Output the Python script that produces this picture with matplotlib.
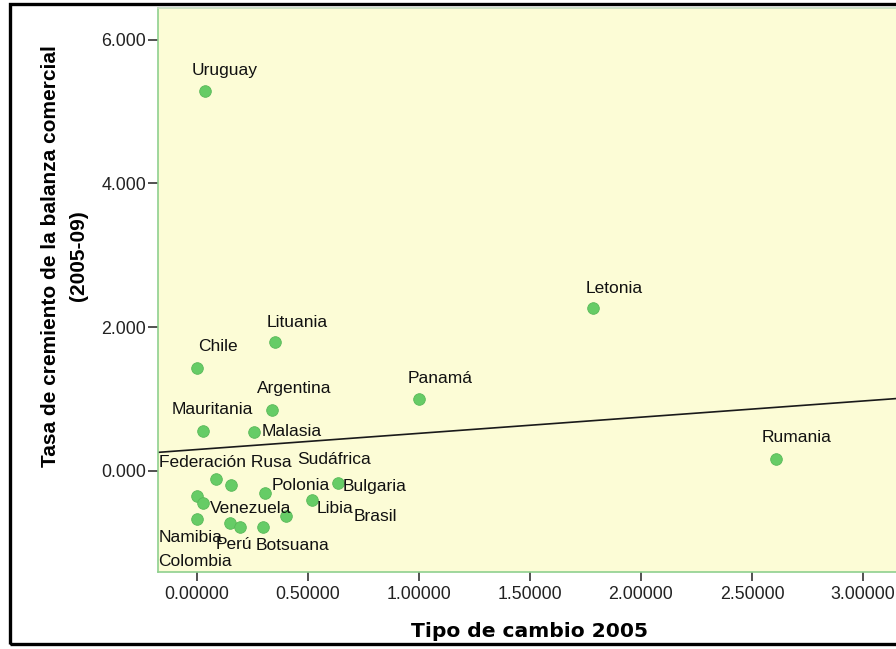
import matplotlib
matplotlib.use("Agg")
import matplotlib.pyplot as plt
from matplotlib.patches import Rectangle
from matplotlib.ticker import FuncFormatter
import numpy as np

# exchange rate 2005 vs. trade balance growth 2005-09, one point per country
paises = ["Uruguay", "Letonia", "Lituania", "Chile", "Argentina", "Panamá",
          "Mauritania", "Malasia", "Rumania", "Federación Rusa", "",
          "Bulgaria", "Polonia", "Namibia", "Venezuela", "Sudáfrica",
          "Libia", "Colombia", "Perú", "Botsuana", "Brasil"]
tipo_cambio = [0.038, 1.783, 0.353, 0.000, 0.341, 1.000,
               0.031, 0.260, 2.607, 0.088, 0.154,
               0.635, 0.308, 0.000, 0.028, 0.518,
               0.403, 0.000, 0.151, 0.196, 0.301]
tasa_balanza = [5.285, 2.263, 1.794, 1.433, 0.848, 0.997,
                0.560, 0.547, 0.167, -0.115, -0.199,
                -0.171, -0.310, -0.348, -0.441, -0.403,
                -0.626, -0.663, -0.719, -0.783, -0.783]

# label centre relative to its marker, in pixels (y up)
label_offsets = [(20, 21), (21, 20), (22, 20), (21, 21), (22, 22), (21, 21),
                 (9, 21), (37, 0), (21, 21), (9, 17), (0, 0),
                 (37, -3), (36, 8), (-6, -41), (48, -6), (22, 40),
                 (49, 7), (-2, -43), (4, -22), (52, -18), (112, 11)]

x_ticks = [0.0, 0.5, 1.0, 1.5, 2.0, 2.5, 3.0]
y_ticks = [0.0, 2.0, 4.0, 6.0]

BG = "#FCFCD6"
GREEN = "#66CC66"
SPINE = "#8FD08F"
TXT = "Liberation Sans"

fig = plt.figure(figsize=(8.96, 6.49), dpi=100)
ax = fig.add_axes([158 / 896, 77.5 / 649, 740 / 896, 563.5 / 649])
ax.set_facecolor(BG)

ax.scatter(tipo_cambio, tasa_balanza, s=70, color=GREEN, edgecolor="#58B858",
           linewidth=0.6, zorder=3)

# total fit line
pend, orig = np.polyfit(tipo_cambio, tasa_balanza, 1)
xl = np.array([-0.2, 3.2])
ax.plot(xl, orig + pend * xl, color="#1a1a1a", lw=1.2, zorder=2)

for nombre, x, y, off in zip(paises, tipo_cambio, tasa_balanza, label_offsets):
    if not nombre:
        continue
    ax.annotate(nombre, (x, y), xytext=off, textcoords="offset pixels",
                ha="center", va="center", fontsize=12.5, family=TXT,
                color="#111111", zorder=4)

ax.set_xlim(-0.1737, 3.157)
ax.set_ylim(-1.398, 6.44)
ax.set_xticks(x_ticks)
ax.set_yticks(y_ticks)
ax.xaxis.set_major_formatter(FuncFormatter(lambda v, p: f"{v:.5f}"))
ax.yaxis.set_major_formatter(FuncFormatter(lambda v, p: f"{v:.3f}"))
ax.tick_params(axis="both", direction="out", length=7.5, width=1.2,
               color="#333333", labelsize=12.8, labelcolor="#222222")
ax.tick_params(axis="y", pad=1)
ax.tick_params(axis="x", pad=4, length=6.5)
for lab in ax.get_xticklabels() + ax.get_yticklabels():
    lab.set_family(TXT)

for side in ("left", "bottom"):
    ax.spines[side].set_color(SPINE)
    ax.spines[side].set_linewidth(1.2)
ax.spines["top"].set_color("#C4DCC0")
ax.spines["top"].set_linewidth(1.2)
ax.spines["right"].set_visible(False)

fig.text(0.0725, 0.606, "Tasa de cremiento de la balanza comercial\n(2005-09)",
         rotation=90, ha="center", va="center", multialignment="center",
         fontsize=15, fontweight="bold", family=TXT, linespacing=1.6)
fig.text(0.5915, 12 / 649, "Tipo de cambio 2005", ha="center", va="baseline",
         fontsize=14.6, fontweight="bold", family="DejaVu Sans")

# outer frame
fig.add_artist(Rectangle((10 / 896, 5 / 649), 0.995, 640 / 649,
                         transform=fig.transFigure, fill=False,
                         edgecolor="black", lw=2.4, clip_on=False))

fig.savefig("out.png", dpi=100)
